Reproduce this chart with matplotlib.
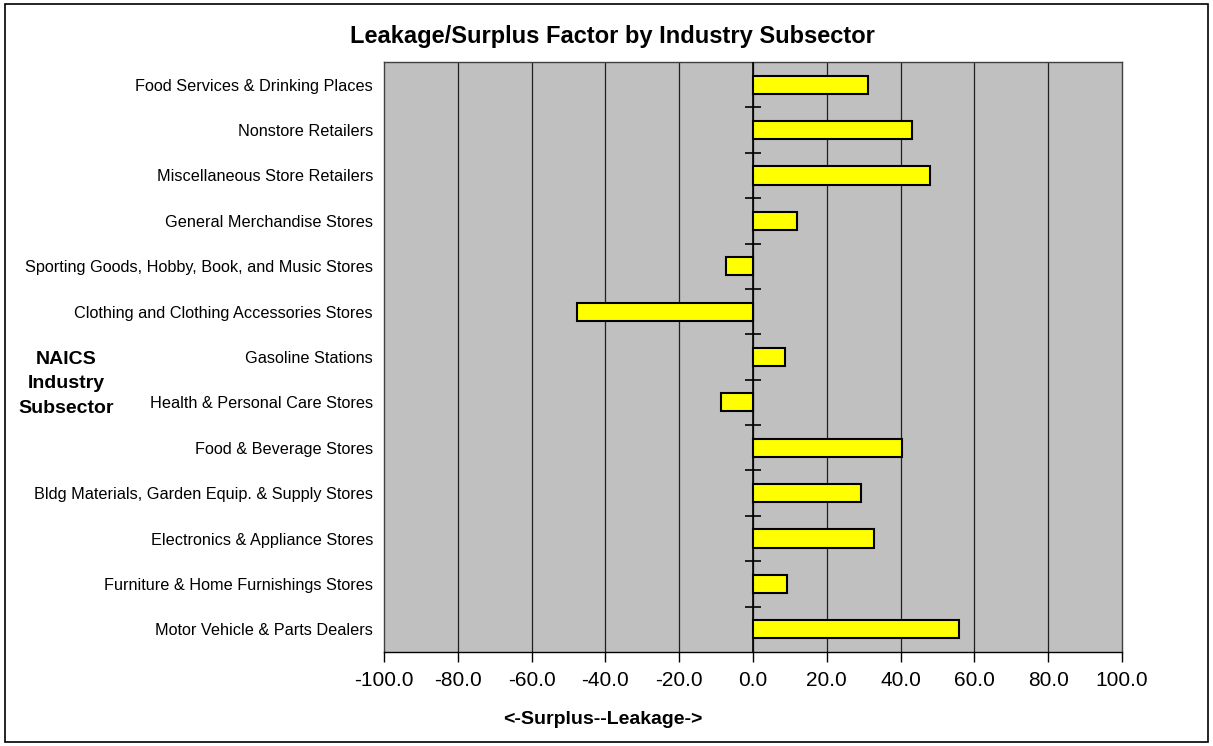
import matplotlib
matplotlib.use("Agg")
import matplotlib.pyplot as plt
import numpy as np

categories = [
    "Motor Vehicle & Parts Dealers",
    "Furniture & Home Furnishings Stores",
    "Electronics & Appliance Stores",
    "Bldg Materials, Garden Equip. & Supply Stores",
    "Food & Beverage Stores",
    "Health & Personal Care Stores",
    "Gasoline Stations",
    "Clothing and Clothing Accessories Stores",
    "Sporting Goods, Hobby, Book, and Music Stores",
    "General Merchandise Stores",
    "Miscellaneous Store Retailers",
    "Nonstore Retailers",
    "Food Services & Drinking Places",
]
values = [55.9, 9.2, 32.7, 29.3, 40.4, -8.8, 8.8, -47.6, -7.4, 12.0, 48.1, 43.2, 31.1]
xticks = [-100, -80, -60, -40, -20, 0, 20, 40, 60, 80, 100]

plt.rcParams['font.family'] = ['Liberation Sans', 'DejaVu Sans']

fig = plt.figure(figsize=(12.13, 7.46), dpi=100)
ax = fig.add_axes([384/1213, 1-652/746, (1122-384)/1213, (652-62)/746])
ax.set_facecolor('#C0C0C0')

y = np.arange(len(categories))
ax.barh(y, values, height=0.4, color='#FFFF00', edgecolor='black', linewidth=1.5, zorder=3)

ax.set_xlim(-100, 100)
ax.set_ylim(-0.5, len(categories) - 0.5)
ax.set_xticks(xticks)
ax.set_xticklabels([f"{v:.1f}" for v in xticks], fontsize=15)
ax.tick_params(axis='x', direction='out', length=7, width=1, pad=7, color='black')
ax.set_yticks(y)
ax.set_yticklabels(categories, fontsize=11.7)
ax.tick_params(axis='y', length=0, pad=8)

for xv in xticks[1:-1]:
    ax.axvline(xv, color='#202020', linewidth=0.9, zorder=1)
ax.axvline(0, color='black', linewidth=1.2, zorder=4)
# category boundary ticks on the zero axis
ax.plot(np.zeros(len(categories) - 1), y[:-1] + 0.5, linestyle='none', marker='_',
        markersize=11, markeredgewidth=1.2, color='black', zorder=4)

for s in ax.spines.values():
    s.set_color('#404040')
    s.set_linewidth(1.0)
ax.spines['bottom'].set_color('black')

fig.text(0.505, 1-36/746, "Leakage/Surplus Factor by Industry Subsector", ha='center', va='center',
         fontsize=17, fontweight='bold')
fig.text(603/1213, 1-720/746, "<-Surplus--Leakage->", ha='center', va='center',
         fontsize=14, fontweight='bold')
fig.text(66/1213, 1-384/746, "NAICS\nIndustry\nSubsector", ha='center', va='center',
         fontsize=14, fontweight='bold', linespacing=1.6)

border = plt.Rectangle((5/1213, 4/746), 1-10/1213, 1-8/746, transform=fig.transFigure,
                       fill=False, edgecolor='black', linewidth=1.2)
fig.patches.append(border)

fig.savefig("out.png", dpi=100)
